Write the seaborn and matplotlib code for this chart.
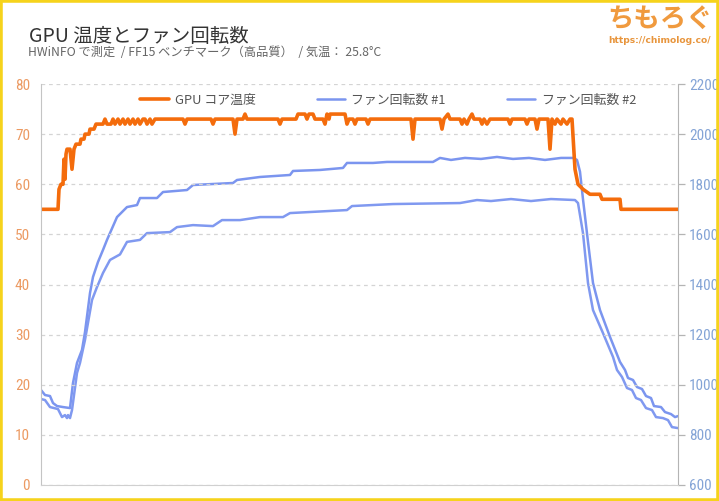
import matplotlib
matplotlib.use("Agg")
import matplotlib.pyplot as plt
import seaborn as sns
from matplotlib.patches import Rectangle
import matplotlib.font_manager as fm

# ---------------- data (time in seconds) ----------------
temp_t = [0, 8.5, 9, 10, 11, 11.5, 12, 12.5, 13, 14.5, 15.5, 16.5, 17.5, 19.5, 20, 21.5, 22, 24, 24.5, 26.5, 27.5,
          31, 32, 33, 35, 36, 37, 38.5, 39.5, 41, 42, 43.5, 44.5, 46, 47, 48.5, 49.5, 51, 52, 53, 54.5, 55.5, 57,
          71, 72, 73, 85, 86, 87, 96, 97, 98, 101, 102, 103, 118.5, 119.5, 120.5, 127.5, 128.5, 132, 133, 134, 136, 137,
          141, 142, 143, 144, 144.5, 152, 153, 154, 156, 157, 158, 162.5, 163.5, 164.5, 185, 186, 187,
          199.5, 200.5, 201.5, 203.5, 204.5, 209.5, 210.5, 211.5, 213, 214, 215.5, 216.5, 219.5, 220.5, 221.5, 223, 224.5,
          233.5, 234.5, 235.5, 242, 243, 244, 247, 248, 249, 253.5, 254.5, 255.5, 257, 258, 260, 261, 263, 264.5, 265.5,
          267, 268.5, 271, 274.5, 279.5, 280.5, 289.5, 290, 318.5]
temp_c = [55, 55, 59, 60, 60, 65, 61, 66, 67, 67, 63, 67, 68, 68, 69, 69, 70, 70, 71, 71, 72,
          72, 73, 72, 72, 73, 72, 73, 72, 73, 72, 73, 72, 73, 72, 73, 72, 73, 73, 72, 73, 72, 73,
          73, 72, 73, 73, 72, 73, 73, 70, 73, 73, 74, 73, 73, 72, 73, 73, 74, 74, 73, 74, 74, 73,
          73, 72, 74, 73, 74, 74, 72, 73, 73, 72, 73, 73, 72, 73, 73, 69, 73,
          73, 71, 73, 74, 73, 73, 72, 73, 72, 73, 74, 73, 73, 72, 73, 72, 73,
          73, 72, 73, 73, 72, 73, 73, 71, 73, 73, 67, 73, 72, 73, 72, 73, 72, 73, 73,
          63, 60, 59, 58, 58, 57, 57, 55, 55]

fan1_t = [0, 2, 4.5, 6, 8, 11, 14.5, 16, 18, 20.5, 22, 24.5, 26, 28.5, 31, 33, 38, 43, 48, 49.5, 58, 61, 73, 76,
          96, 98, 109.5, 124.5, 126, 139.5, 151, 153, 166, 173, 196, 199.5, 205, 212, 220, 228, 236, 244, 252, 260,
          266, 268, 269.5, 271, 273.5, 276, 279.5, 284.5, 289.5, 292, 293.5, 296, 298, 300.5, 302.5, 305, 306.5,
          310, 312, 315, 317, 318.5]
fan1_rpm = [979, 959, 955, 927, 915, 911, 907, 1007, 1087, 1139, 1210, 1366, 1430, 1490, 1538, 1578, 1669, 1709,
            1717, 1745, 1745, 1769, 1777, 1797, 1805, 1817, 1829, 1837, 1853, 1857, 1865, 1885, 1885, 1889, 1889,
            1905, 1897, 1905, 1901, 1909, 1901, 1905, 1897, 1905,
            1905, 1897, 1850, 1740, 1570, 1406, 1298, 1191, 1091, 1059, 1027, 1019, 991, 983, 955, 947, 915,
            911, 891, 883, 871, 875]

fan2_t = [0, 2, 4.5, 8.5, 10.5, 12, 13, 13.5, 14.5, 15.5, 18, 19.5, 22, 25.5, 28, 31, 34.5, 39.5, 43, 49.5, 53,
          64.5, 68, 76, 86, 90.5, 99.5, 109.5, 121, 124.5, 153, 155.5, 176, 209.5, 218, 225, 235, 245, 255, 267,
          268.5, 271, 273.5, 276, 281, 286, 288, 290.5, 293, 295.5, 297.5, 300, 302.5, 305.5, 307.5, 311, 313.5,
          315.5, 318.5]
fan2_rpm = [943, 939, 911, 903, 871, 879, 867, 879, 867, 899, 1047, 1087, 1179, 1338, 1390, 1446, 1498, 1520,
            1570, 1578, 1605, 1609, 1629, 1637, 1633, 1657, 1657, 1669, 1669, 1685, 1697, 1713, 1721, 1725, 1737,
            1733, 1741, 1733, 1741, 1737,
            1725, 1605, 1406, 1298, 1206, 1111, 1059, 1031, 987, 979, 947, 939, 907, 899, 871, 867, 859, 831, 827]

temp_ticks = [0, 10, 20, 30, 40, 50, 60, 70, 80]
rpm_ticks = [600, 800, 1000, 1200, 1400, 1600, 1800, 2000, 2200]
labels = ["GPU コア温度", "ファン回転数 #1", "ファン回転数 #2"]
title = "GPU 温度とファン回転数"
subtitle = "HWiNFO で測定  / FF15 ベンチマーク（高品質）  / 気温： 25.8°C"

# ---------------- style ----------------
sns.set_style("white")
plt.rcParams['font.family'] = ['Noto Sans CJK JP', 'DejaVu Sans']

fonts = fm.fontManager.ttflist
names = {f.name for f in fonts}
narrow_family = None
narrow_stretch = 'normal'
for cand in ['Roboto Condensed', 'Liberation Sans Narrow', 'Open Sans Condensed', 'Noto Sans Condensed']:
    if cand in names:
        narrow_family = cand
        break
if narrow_family is None:
    cond = [f for f in fonts if f.name in ('Roboto', 'Noto Sans', 'Open Sans', 'DejaVu Sans')
            and str(f.stretch) in ('condensed', 'semi-condensed', '87.5', '75', 'semi-expanded') and f.stretch != 'normal']
    if cond:
        narrow_family = cond[0].name
        narrow_stretch = cond[0].stretch
    else:
        narrow_family = 'Roboto'
tick_size = 11 if narrow_family != 'Roboto' else 9.8

ORANGE = '#f46c0c'
BLUE1 = '#7b95ef'
BLUE2 = '#8099f0'
W, H = 719, 501

fig = plt.figure(figsize=(W / 100, H / 100), dpi=100)
ax = fig.add_axes([41 / W, 16 / H, 637 / W, 401 / H])
ax2 = ax.twinx()

sns.lineplot(x=fan1_t, y=fan1_rpm, ax=ax2, color=BLUE1, lw=1.8, sort=False, estimator=None)
sns.lineplot(x=fan2_t, y=fan2_rpm, ax=ax2, color=BLUE2, lw=1.8, sort=False, estimator=None)
sns.lineplot(x=temp_t, y=temp_c, ax=ax, color=ORANGE, lw=2.6, sort=False, estimator=None)

ax.set_zorder(ax2.get_zorder() + 1)
ax.patch.set_visible(False)

ax.set_xlim(0, 318.5)
ax.set_ylim(0, 80)
ax2.set_ylim(600, 2200)
ax.set_yticks(temp_ticks)
ax2.set_yticks(rpm_ticks)
ax.set_xticks([])
ax.set_xlabel("")
ax.set_ylabel("")
ax2.set_ylabel("")

ax.grid(axis='y', color='#d4d4d4', linestyle=(0, (3, 3)), lw=0.9)
ax2.grid(False)

for a in (ax, ax2):
    for s in a.spines.values():
        s.set_visible(False)
ax.spines['left'].set_visible(True)
ax.spines['left'].set_color('#c4c4c4')
ax.spines['bottom'].set_visible(True)
ax.spines['bottom'].set_color('#d0d0d0')
ax2.spines['right'].set_visible(True)
ax2.spines['right'].set_color('#b4b4b4')

ax.tick_params(axis='y', length=0, pad=8, labelsize=tick_size, labelcolor='#ec9a62')
ax2.tick_params(axis='y', length=5, width=0.9, color='#b4b4b4', pad=3, labelsize=tick_size, labelcolor='#84a4d6')
for lab in ax.get_yticklabels() + ax2.get_yticklabels():
    lab.set_family(narrow_family)
    lab.set_fontstretch(narrow_stretch)

handles = [ax.get_lines()[0], ax2.get_lines()[0], ax2.get_lines()[1]]
leg = ax.legend(handles, labels, loc='center', bbox_to_anchor=((388 - 41) / 637, (485 - 100) / 401),
                ncol=3, frameon=False, handlelength=2.2, columnspacing=4.7, handletextpad=0.5,
                fontsize=9.3)
for txt in leg.get_texts():
    txt.set_color('#555555')

fig.text(29 / W, 1 - 37 / H, title, fontsize=14, color='#333333', va='center', ha='left')
fig.text(28 / W, 1 - 53 / H, subtitle, fontsize=8.8, color='#666666', va='center', ha='left')
fig.text(660 / W, 1 - 19 / H, "ちもろぐ", fontsize=19, color='#f09a3e', fontweight='bold',
         va='center', ha='center')
fig.text(660 / W, 1 - 41 / H, "https://chimolog.co/", fontsize=6.6, color='#e8953c',
         fontweight='bold', va='center', ha='center', family=['DejaVu Sans'])

fig.patches.append(Rectangle((0, 0), 1, 1, transform=fig.transFigure, fill=False,
                             edgecolor='#f6d31c', lw=4, zorder=10))

fig.savefig("out.png", dpi=100)
